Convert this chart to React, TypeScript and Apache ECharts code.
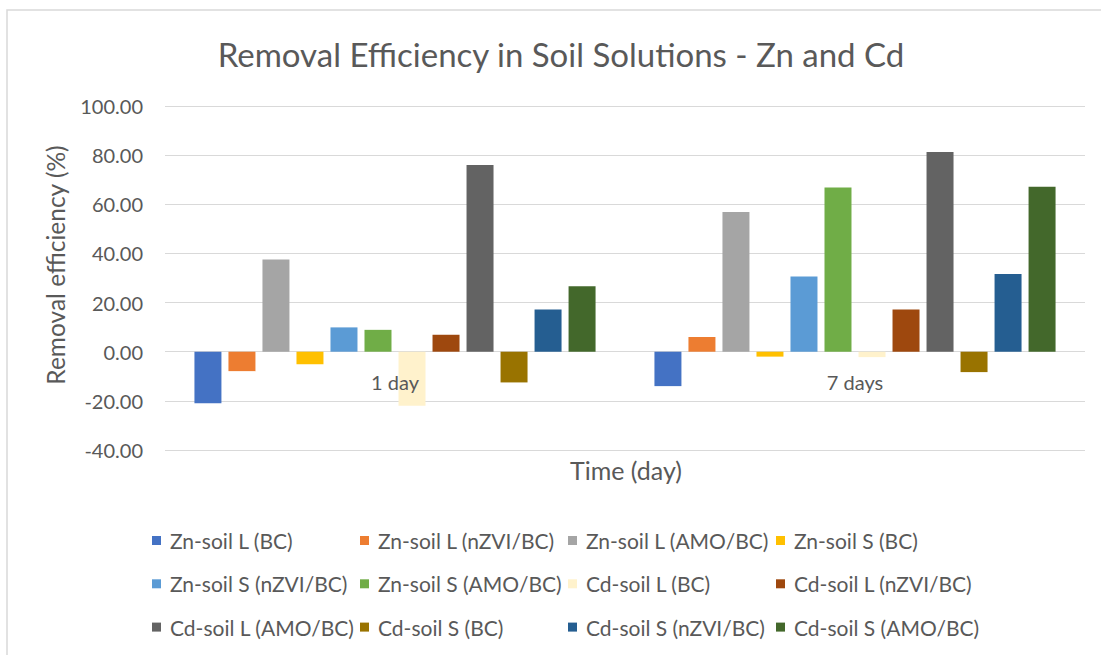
import React, { useEffect, useRef } from "react";
import * as echarts from "echarts";

const categories = ["1 day", "7 days"];
const seriesNames = [
  "Zn-soil L (BC)",
  "Zn-soil L (nZVI/BC)",
  "Zn-soil L (AMO/BC)",
  "Zn-soil S (BC)",
  "Zn-soil S (nZVI/BC)",
  "Zn-soil S (AMO/BC)",
  "Cd-soil L (BC)",
  "Cd-soil L (nZVI/BC)",
  "Cd-soil L (AMO/BC)",
  "Cd-soil S (BC)",
  "Cd-soil S (nZVI/BC)",
  "Cd-soil S (AMO/BC)",
];
const znSoilLBC = [-21.0, -14.0];
const znSoilLnZVI = [-7.9, 6.0];
const znSoilLAMO = [37.5, 56.9];
const znSoilSBC = [-5.1, -2.0];
const znSoilSnZVI = [9.9, 30.6];
const znSoilSAMO = [8.9, 66.8];
const cdSoilLBC = [-22.0, -2.2];
const cdSoilLnZVI = [6.9, 17.2];
const cdSoilLAMO = [76.0, 81.3];
const cdSoilSBC = [-12.5, -8.3];
const cdSoilSnZVI = [17.2, 31.6];
const cdSoilSAMO = [26.6, 67.1];
const seriesValues = [
  znSoilLBC, znSoilLnZVI, znSoilLAMO, znSoilSBC, znSoilSnZVI, znSoilSAMO,
  cdSoilLBC, cdSoilLnZVI, cdSoilLAMO, cdSoilSBC, cdSoilSnZVI, cdSoilSAMO,
];
const colors = [
  "#4472C4", "#ED7D31", "#A5A5A5", "#FFC000", "#5B9BD5", "#70AD47",
  "#FFF2CC", "#9E480E", "#636363", "#997300", "#255E91", "#43682B",
];
const yMin = -40;
const yMax = 100;
const yStep = 20;

const FONT = "Lato";
const TXT = "#595959";

export default function App() {
  const ref = useRef<HTMLDivElement>(null);
  useEffect(() => {
    if (!ref.current) return;
    const chart = echarts.init(ref.current, null, { renderer: "svg" });
    const colLefts = [152, 360, 568, 776];
    const legends = colLefts.map((left, c) => ({
      orient: "vertical",
      left,
      top: 529.5,
      padding: 0,
      itemWidth: 9,
      itemHeight: 9,
      itemGap: 21.3,
      icon: "rect",
      data: [seriesNames[c], seriesNames[c + 4], seriesNames[c + 8]],
      textStyle: { color: TXT, fontFamily: FONT, fontSize: 21, lineHeight: 22, padding: [0, 0, 0, 4] },
    }));
    // plot spans y 106..450 -> zero line sits at 352, so the category axis is raised by 98px
    chart.setOption({
      animation: false,
      color: colors,
      textStyle: { fontFamily: FONT },
      grid: { left: 165, right: 16, top: 106, bottom: 205, containLabel: false },
      legend: legends,
      xAxis: {
        type: "category",
        data: categories,
        position: "bottom",
        offset: -98,
        z: 10,
        axisLine: { show: false, onZero: false },
        axisTick: { show: false },
        axisLabel: { color: TXT, fontFamily: FONT, fontSize: 20, margin: 20 },
      },
      yAxis: {
        type: "value",
        min: yMin,
        max: yMax,
        interval: yStep,
        axisLine: { show: false },
        axisTick: { show: false },
        splitLine: { lineStyle: { color: "#d9d9d9", width: 1 } },
        axisLabel: {
          color: TXT,
          fontFamily: FONT,
          fontSize: 20,
          margin: 22,
          formatter: (v: number) => v.toFixed(2),
        },
      },
      series: seriesNames.map((name, i) => ({
        name,
        type: "bar",
        data: seriesValues[i],
        barGap: "26%",
        barCategoryGap: "12.8%",
        itemStyle: { color: colors[i] },
      })),
      graphic: [
        {
          type: "rect",
          shape: { x: 7, y: 10, width: 1110, height: 660 },
          style: { fill: "none", stroke: "#d9d9d9", lineWidth: 1.5 },
          silent: true,
        },
        {
          type: "text",
          x: 561,
          y: 54,
          style: {
            text: "Removal Efficiency in Soil Solutions - Zn and Cd",
            fill: TXT,
            font: `33px ${FONT}`,
            textAlign: "center",
            textVerticalAlign: "middle",
          },
        },
        {
          type: "text",
          x: 55,
          y: 265,
          rotation: Math.PI / 2,
          style: {
            text: "Removal efficiency (%)",
            fill: TXT,
            font: `24.5px ${FONT}`,
            textAlign: "center",
            textVerticalAlign: "middle",
          },
        },
        {
          type: "text",
          x: 626,
          y: 470,
          style: {
            text: "Time (day)",
            fill: TXT,
            font: `25px ${FONT}`,
            textAlign: "center",
            textVerticalAlign: "middle",
          },
        },
      ],
    });
    return () => chart.dispose();
  }, []);
  return (
    <div
      ref={ref}
      style={{ position: "fixed", left: 0, top: 0, width: 1101, height: 655, background: "#fff" }}
    />
  );
}
